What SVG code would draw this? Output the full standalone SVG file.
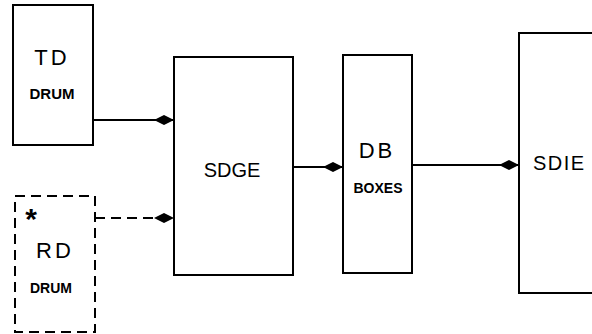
<svg xmlns="http://www.w3.org/2000/svg" width="592" height="334" viewBox="0 0 592 334">
<style>
.box{fill:#fff;stroke:#000;stroke-width:2}
.dash{stroke-dasharray:10,6}
.conn{stroke:#000;stroke-width:2;fill:none}
.t{font-family:"Liberation Sans",Arial,sans-serif;fill:#000;text-anchor:middle}
.big{font-size:22px}
.small{font-size:15px;font-weight:bold}
</style>
<defs>
<marker id="dia" viewBox="0 0 20 12" refX="20" refY="6" markerWidth="20" markerHeight="12" markerUnits="userSpaceOnUse" orient="auto">
<path d="M0,6 L10,1 L20,6 L10,11 Z" fill="#000"/>
</marker>
</defs>
<rect width="592" height="334" fill="#fff"/>
<g id="connectors">
<line class="conn" x1="93" y1="120" x2="174" y2="120" marker-end="url(#dia)"/>
<line class="conn dash" x1="95" y1="218" x2="174" y2="218" marker-end="url(#dia)"/>
<line class="conn" x1="293" y1="167" x2="343" y2="167" marker-end="url(#dia)"/>
<line class="conn" x1="412" y1="165" x2="519" y2="165" marker-end="url(#dia)"/>
</g>
<g id="td">
<rect class="box" x="13" y="5" width="80" height="140"/>
<text class="t big" x="52" y="65" letter-spacing="3">TD</text>
<text class="t small" x="52" y="99">DRUM</text>
</g>
<g id="rd">
<rect class="box dash" x="15" y="196" width="80" height="136"/>
<text class="t" x="31" y="229" style="font-size:30px;font-weight:bold">*</text>
<text class="t big" x="55" y="258" letter-spacing="3">RD</text>
<text class="t small" x="51" y="293" style="font-size:14px">DRUM</text>
</g>
<g id="sdge">
<rect class="box" x="174" y="57" width="119" height="218"/>
<text class="t" x="232" y="177" style="font-size:20px">SDGE</text>
</g>
<g id="db">
<rect class="box" x="343" y="55" width="69" height="218"/>
<text class="t big" x="377" y="158" letter-spacing="3">DB</text>
<text class="t small" x="378" y="193" style="font-size:14px">BOXES</text>
</g>
<g id="sdie">
<rect class="box" x="519" y="33" width="80" height="260"/>
<text class="t" x="533" y="170" letter-spacing="1.5" style="font-size:20px;text-anchor:start">SDIE</text>
</g>
</svg>
